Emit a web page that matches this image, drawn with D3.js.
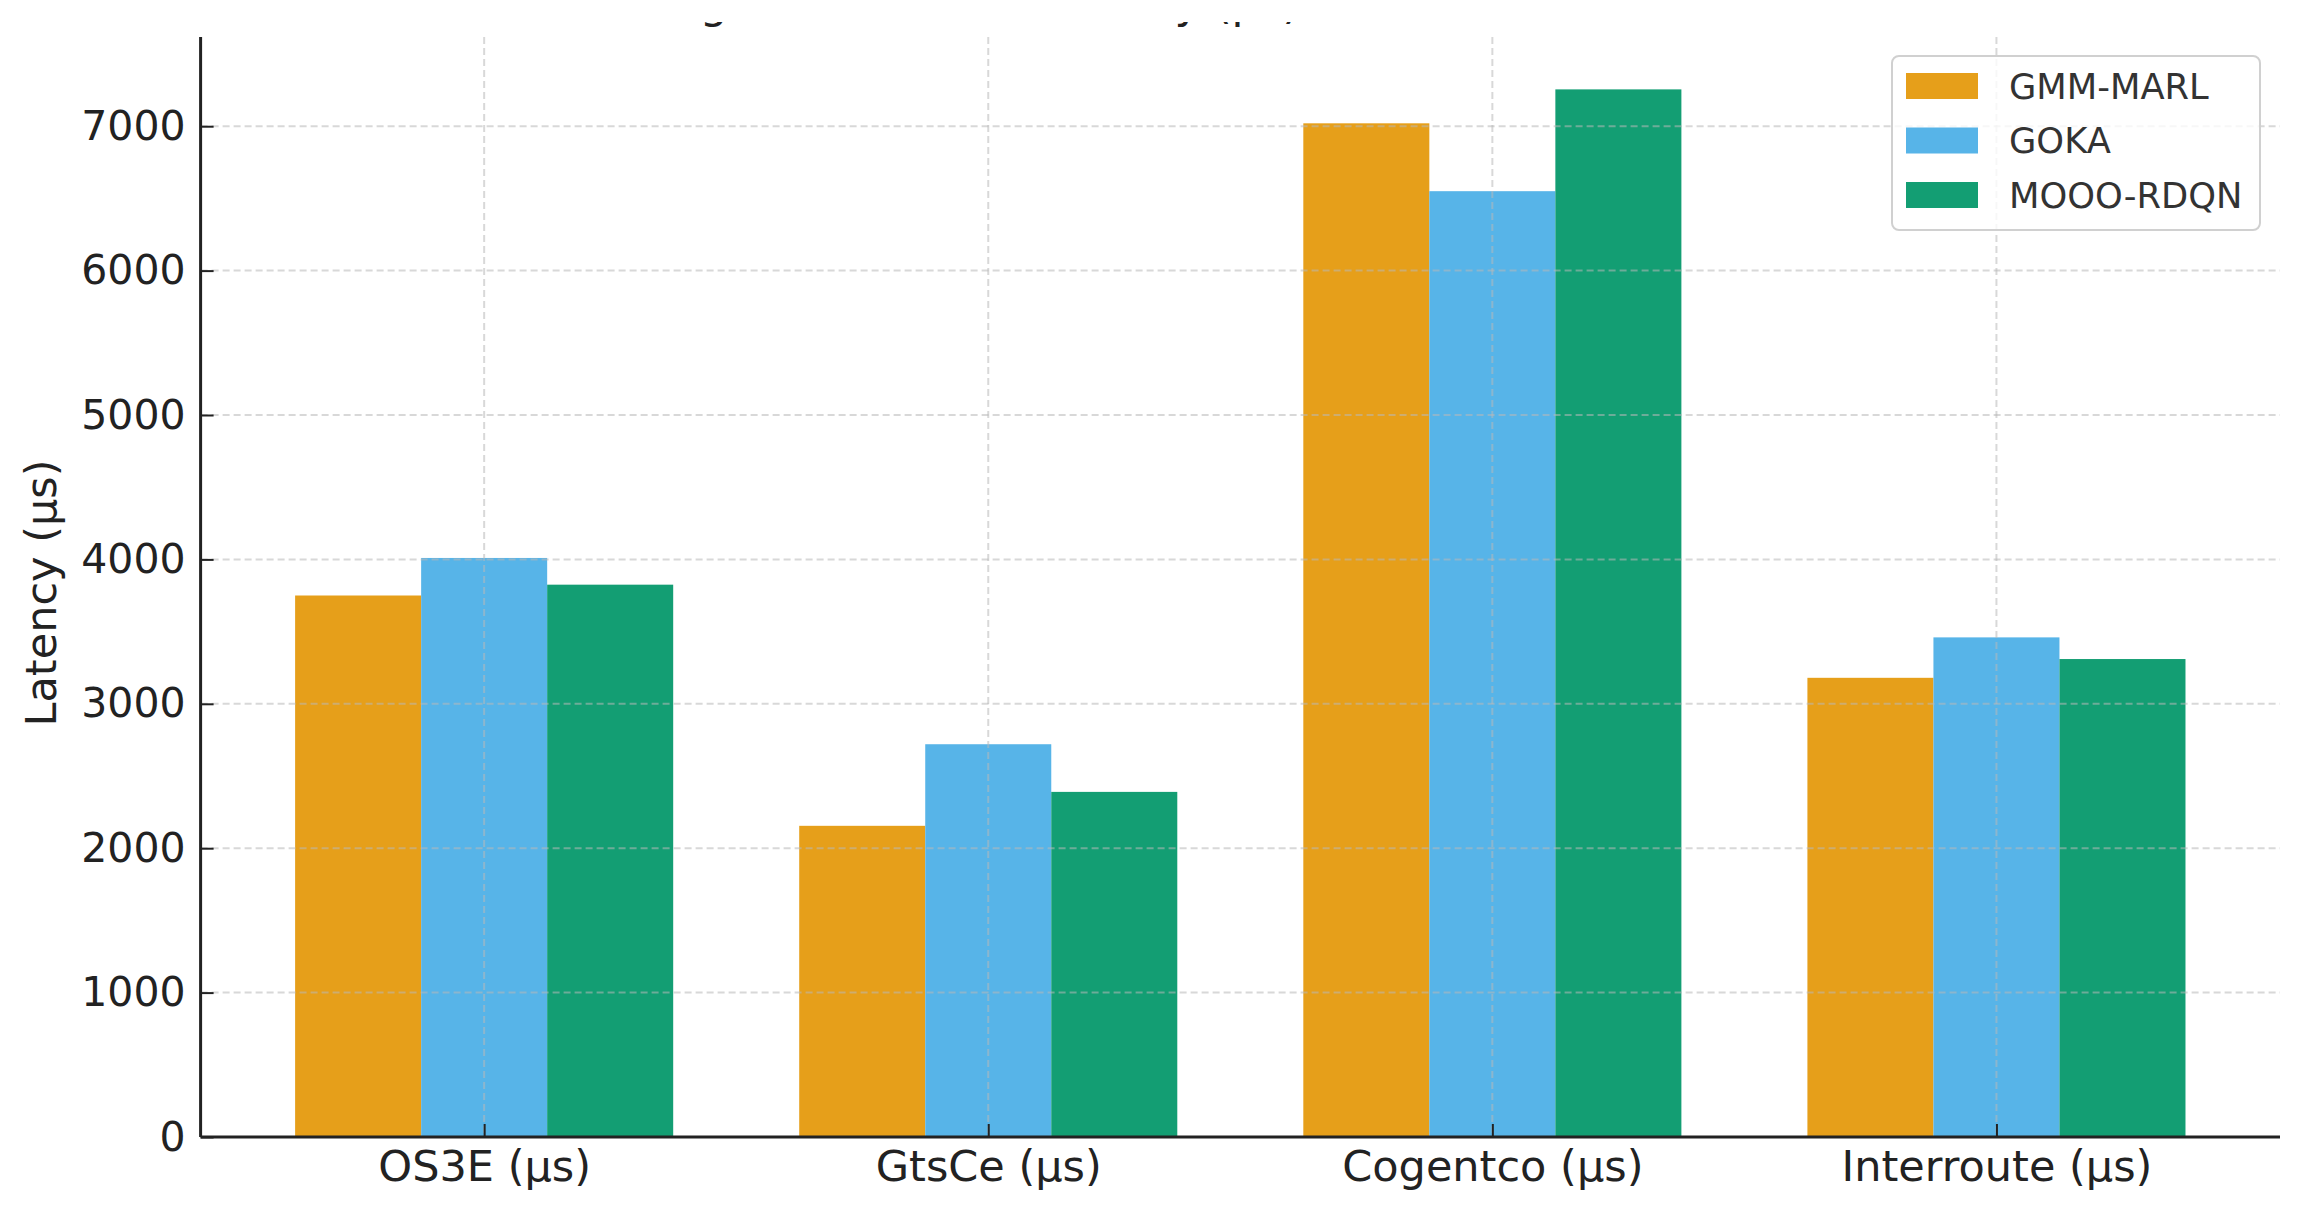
<!DOCTYPE html>
<html>
<head>
<meta charset="utf-8">
<script src="https://cdn.jsdelivr.net/npm/d3@7"></script>
<style>
  html, body { margin: 0; padding: 0; background: #fff; }
  svg { display: block; font-family: "DejaVu Sans", sans-serif; }
</style>
</head>
<body>
<svg id="chart" width="2313" height="1218"></svg>
<script>
// ---- data ----
const categories = ["OS3E (μs)", "GtsCe (μs)", "Cogentco (μs)", "Interroute (μs)"];
const seriesNames = ["GMM-MARL", "GOKA", "MOOO-RDQN"];
const gmmMarl = [3750, 2155, 7020, 3180];
const goka = [4010, 2720, 6550, 3460];
const moooRdqn = [3825, 2390, 7255, 3310];
const seriesColors = ["#E69F1A", "#57B4E8", "#139E73"];
const yTicks = [0, 1000, 2000, 3000, 4000, 5000, 6000, 7000];
const titleText = "Average End-to-End Latency (μs)";
const yLabel = "Latency (μs)";

const seriesValues = [gmmMarl, goka, moooRdqn];

// ---- layout ----
const W = 2313, H = 1218;
const plotLeft = 200.6, plotRight = 2280, plotBottom = 1137;
const svg = d3.select("#chart");

const maxVal = d3.max(seriesValues.flat());
const y = d3.scaleLinear().domain([0, maxVal * 1.05]).range([plotBottom, 37]);

// x: linear index scale like matplotlib with 0.25 width bars and 5% margins
const nCat = categories.length;
const barW = 0.25;
const dataMin = -1.5 * barW, dataMax = (nCat - 1) + 1.5 * barW;
const pad = (dataMax - dataMin) * 0.05;
const x = d3.scaleLinear().domain([dataMin - pad, dataMax + pad]).range([plotLeft, plotRight]);
const bw = x(barW) - x(0);

// ---- title (cropped at top like the reference: only descenders remain) ----
svg.append("defs").append("clipPath").attr("id", "titleClip")
  .append("rect").attr("x", 0).attr("y", 22).attr("width", W).attr("height", 12);
svg.append("text")
  .attr("clip-path", "url(#titleClip)")
  .attr("x", 574).attr("y", 18)
  .attr("font-size", 44).attr("fill", "#222")
  .text(titleText);

// ---- bars ----
const gBars = svg.append("g");
seriesValues.forEach((vals, si) => {
  gBars.selectAll(null).data(vals).enter().append("rect")
    .attr("x", (d, i) => x(i + (si - 1) * barW - barW / 2))
    .attr("y", d => y(d))
    .attr("width", bw)
    .attr("height", d => y(0) - y(d))
    .attr("fill", seriesColors[si]);
});

// ---- grid (drawn above bars, translucent) ----
const grid = svg.append("g").attr("stroke", "#b8b8b8").attr("stroke-opacity", 0.55)
  .attr("stroke-width", 2).attr("stroke-dasharray", "7,4");
grid.selectAll(null).data(yTicks.filter(t => t > 0)).enter().append("line")
  .attr("x1", plotLeft).attr("x2", plotRight)
  .attr("y1", d => y(d)).attr("y2", d => y(d));
grid.selectAll(null).data(d3.range(nCat)).enter().append("line")
  .attr("y1", y.range()[1]).attr("y2", plotBottom)
  .attr("x1", d => x(d)).attr("x2", d => x(d));

// ---- axes ----
const yAxis = d3.axisLeft(y).tickValues(yTicks).tickSize(-13).tickPadding(15).tickFormat(d3.format("d"));
const gy = svg.append("g").attr("transform", `translate(${plotLeft},0)`).call(yAxis);
const xAxis = d3.axisBottom(x).tickValues(d3.range(nCat)).tickSize(-13).tickPadding(13)
  .tickFormat(i => categories[i]);
const gx = svg.append("g").attr("transform", `translate(0,${plotBottom})`).call(xAxis);

[gx, gy].forEach(g => {
  g.select(".domain").attr("stroke", "#222").attr("stroke-width", 3);
  g.selectAll(".tick line").attr("stroke", "#222").attr("stroke-width", 2);
  g.selectAll(".tick text").attr("fill", "#222")
    .attr("font-family", "DejaVu Sans, sans-serif");
});
gy.selectAll(".tick text").attr("font-size", 41);
gx.selectAll(".tick text").attr("font-size", 43);
gy.select(".domain").attr("d", `M0,${plotBottom}V${y.range()[1]}`);
gx.select(".domain").attr("d", `M${plotLeft},0H${plotRight}`);

// ---- y label ----
svg.append("text")
  .attr("transform", `translate(56,${(plotBottom + y.range()[1]) / 2 + 6}) rotate(-90)`)
  .attr("text-anchor", "middle").attr("font-size", 43).attr("fill", "#222")
  .text(yLabel);

// ---- legend ----
const lg = svg.append("g");
lg.append("rect").attr("x", 1892).attr("y", 56).attr("width", 368).attr("height", 174)
  .attr("rx", 7).attr("fill", "#fff").attr("fill-opacity", 0.8)
  .attr("stroke", "#d0d0d0").attr("stroke-width", 2);
seriesNames.forEach((name, i) => {
  const cy = 86 + i * 54.5;
  lg.append("rect").attr("x", 1906).attr("y", cy - 13).attr("width", 72).attr("height", 26)
    .attr("fill", seriesColors[i]);
  lg.append("text").attr("x", 2009).attr("y", cy).attr("dy", "0.36em")
    .attr("font-size", 35.3).attr("fill", "#333").text(name);
});
</script>
</body>
</html>
